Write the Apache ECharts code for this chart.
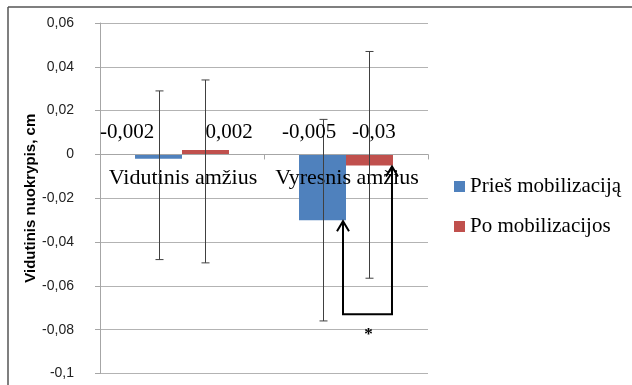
<!DOCTYPE html>
<html><head><meta charset="utf-8">
<script src="https://cdn.jsdelivr.net/npm/echarts@6/dist/echarts.min.js"></script>
<style>html,body{margin:0;padding:0;background:#fff}#c{width:632px;height:385px}</style>
</head><body><div id="c"></div>
<script>
const categories = ['Vidutinis amžius', 'Vyresnis amžius'];
const seriesNames = ['Prieš mobilizaciją', 'Po mobilizacijos'];
const priesValues = [-0.002, -0.03];
const poValues = [0.002, -0.005];
const priesErrLow = [-0.048, -0.076];
const priesErrHigh = [0.029, 0.016];
const poErrLow = [-0.0495, -0.0565];
const poErrHigh = [0.034, 0.047];
const priesLabels = ['-0,002', '-0,005'];
const poLabels = ['0,002', '-0,03'];
const labelLevel = 0.01;
const bracketBottom = -0.073;
const bracketMark = '*';
const yMin = -0.1, yMax = 0.06, yStep = 0.02;

const GAP = 0.427;
const serif = '"Liberation Serif","Times New Roman",serif';

function barCenters(api, cat) {
  const c = api.coord([cat, 0])[0];
  const band = api.size([1, 0])[0];
  const bw = band * (1 - GAP) / 2;
  return { c, band, bw, left: c - bw / 2, right: c + bw / 2 };
}

const errData = [];
categories.forEach((_, i) => {
  errData.push([i, priesErrLow[i], priesErrHigh[i], 0]);
  errData.push([i, poErrLow[i], poErrHigh[i], 1]);
});
const labelData = [];
categories.forEach((_, i) => {
  labelData.push([i, labelLevel, 0, priesLabels[i]]);
  labelData.push([i, labelLevel, 1, poLabels[i]]);
});
const catLabelData = categories.map((c, i) => [i, 0, c]);

const chart = echarts.init(document.getElementById('c'), null, { renderer: 'canvas' });
chart.setOption({
  animation: false,
  grid: { left: 100, right: 204, top: 23, bottom: 11.5, containLabel: false, outerBoundsMode: 'none' },
  legend: {
    data: seriesNames, orient: 'vertical', left: 449, top: 171,
    icon: 'rect', itemWidth: 11, itemHeight: 11, itemGap: 19,
    textStyle: { fontFamily: serif, fontSize: 21, color: '#000' }
  },
  xAxis: {
    type: 'category', data: categories, z: 5,
    axisLine: { onZero: true, lineStyle: { color: '#a6a6a6', width: 1 } },
    axisTick: { show: true, length: 5, lineStyle: { color: '#a6a6a6' } },
    axisLabel: { show: false },
    splitLine: { show: false }
  },
  yAxis: {
    type: 'value', min: yMin, max: yMax, interval: yStep,
    name: 'Vidutinis nuokrypis, cm', nameLocation: 'middle', nameGap: 62, nameMoveOverlap: false,
    nameTextStyle: { fontFamily: '"Liberation Sans",Arial,sans-serif', fontWeight: 'bold', fontSize: 15, color: '#000' },
    axisLine: { show: true, lineStyle: { color: '#a6a6a6' } },
    axisTick: { show: true, length: 5, lineStyle: { color: '#a6a6a6' } },
    axisLabel: {
      margin: 26, color: '#222', fontSize: 14,
      fontFamily: '"Liberation Sans Narrow","Liberation Sans",Arial,sans-serif',
      formatter: v => Number(v.toFixed(3)).toString().replace('.', ',')
    },
    splitLine: { lineStyle: { color: '#b3b3b3', width: 1 } }
  },
  graphic: [
    { type: 'line', shape: { x1: 8, y1: 7, x2: 632, y2: 7 }, style: { stroke: '#555', lineWidth: 1.5 }, silent: true },
    { type: 'line', shape: { x1: 8, y1: 7, x2: 8, y2: 385 }, style: { stroke: '#555', lineWidth: 1.5 }, silent: true }
  ],
  series: [
    { name: seriesNames[0], type: 'bar', data: priesValues, barGap: '0%', barCategoryGap: (GAP * 100) + '%',
      itemStyle: { color: '#4f81bd' } },
    { name: seriesNames[1], type: 'bar', data: poValues, barGap: '0%', barCategoryGap: (GAP * 100) + '%',
      itemStyle: { color: '#c0504d' } },
    { type: 'custom', z: 5, data: catLabelData, encode: { x: 0, y: 1 },
      renderItem: (params, api) => {
        const cat = api.value(0);
        const p = api.coord([cat, api.value(1)]);
        return { type: 'text', style: { text: catLabelData[params.dataIndex][2], x: p[0] + 1, y: p[1] + 24,
          align: 'center', verticalAlign: 'middle', font: '22px ' + serif, fill: '#000' } };
      } },
    { type: 'custom', z: 6, data: errData, encode: { x: 0, y: [1, 2] },
      renderItem: (params, api) => {
        const b = barCenters(api, api.value(0));
        const x = Math.round(api.value(3) === 0 ? b.left : b.right) + 0.5;
        const y1 = api.coord([api.value(0), api.value(1)])[1];
        const y2 = api.coord([api.value(0), api.value(2)])[1];
        const st = { stroke: '#404040', lineWidth: 1 };
        return { type: 'group', children: [
          { type: 'line', shape: { x1: x, y1: y1, x2: x, y2: y2 }, style: st },
          { type: 'line', shape: { x1: x - 4, y1: y1, x2: x + 4, y2: y1 }, style: st },
          { type: 'line', shape: { x1: x - 4, y1: y2, x2: x + 4, y2: y2 }, style: st }
        ]};
      } },
    { type: 'custom', z: 7, data: labelData, encode: { x: 0, y: 1 },
      renderItem: (params, api) => {
        const cat = api.value(0);
        const b = barCenters(api, cat);
        const s = api.value(2);
        const y = api.coord([cat, api.value(1)])[1];
        const offs = cat === 0 ? [-0.335, 0.287] : [-0.225, 0.17];
        const x = b.c + offs[s] * b.band;
        return { type: 'text', style: { text: labelData[params.dataIndex][3], x: x, y: y,
          align: 'center', verticalAlign: 'middle', font: '21px ' + serif, fill: '#000' } };
      } },
    { type: 'custom', z: 8, data: [[1, priesValues[1], poValues[1], bracketBottom]], encode: { x: 0, y: [1, 2, 3] },
      renderItem: (params, api) => {
        const cat = api.value(0);
        const b = barCenters(api, cat);
        const xl = b.left + b.bw / 2 - 3;
        const xr = b.right + b.bw / 2 - 1;
        const yl = api.coord([cat, api.value(1)])[1];
        const yr = api.coord([cat, api.value(2)])[1];
        const yb = api.coord([cat, api.value(3)])[1];
        const st = { stroke: '#000', lineWidth: 2, fill: null };
        const mid = (xl + xr) / 2;
        return { type: 'group', children: [
          { type: 'polyline', shape: { points: [[xl, yl + 1], [xl, yb], [xr, yb], [xr, yr + 1]] }, style: st },
          { type: 'polyline', shape: { points: [[xl - 6, yl + 11], [xl, yl + 1], [xl + 6, yl + 11]] }, style: st },
          { type: 'polyline', shape: { points: [[xr - 6, yr + 11], [xr, yr + 1], [xr + 6, yr + 11]] }, style: st },
          { type: 'text', style: { text: bracketMark, x: mid + 1, y: yb + 20, align: 'center', verticalAlign: 'middle',
            font: 'bold 17px ' + serif, fill: '#000' } }
        ]};
      } }
  ]
});
</script>
</body></html>
